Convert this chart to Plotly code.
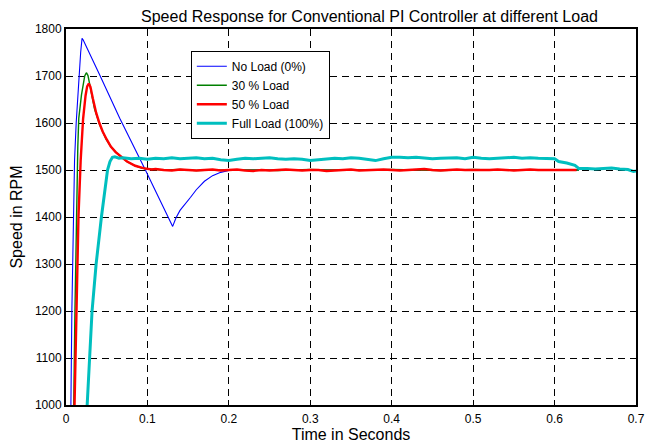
import plotly.graph_objects as go

# ---- time axis ticks ----
x_ticks = [0, 0.1, 0.2, 0.3, 0.4, 0.5, 0.6, 0.7]
x_tick_text = ["0", "0.1", "0.2", "0.3", "0.4", "0.5", "0.6", "0.7"]
y_ticks = [1000, 1100, 1200, 1300, 1400, 1500, 1600, 1700, 1800]

# ---- No Load (0%) ----
noload_t = [0.0055, 0.006, 0.0072, 0.0089, 0.0105, 0.0125, 0.0145, 0.0159, 0.018, 0.0197, 0.021,
            0.042, 0.066, 0.0975, 0.120, 0.131, 0.135, 0.140, 0.153, 0.160, 0.170, 0.180, 0.190,
            0.200, 0.22, 0.26, 0.30, 0.34, 0.38, 0.42, 0.46, 0.50, 0.54, 0.58, 0.63]
noload_v = [960, 1000, 1200, 1400, 1520, 1600, 1665, 1700, 1750, 1780, 1777,
            1700, 1610, 1500, 1420, 1380, 1398, 1414, 1442, 1458, 1476, 1488, 1495,
            1499, 1500, 1500, 1500, 1500, 1500, 1500, 1500, 1500, 1500, 1500, 1500]

# ---- 30 % Load ----
load30_t = [0.009, 0.0095, 0.011, 0.0128, 0.0145, 0.0157, 0.019, 0.023, 0.025, 0.027, 0.030,
            0.035, 0.041, 0.045, 0.049, 0.055, 0.061, 0.068, 0.075, 0.085, 0.093, 0.100,
            0.12, 0.14, 0.16, 0.18, 0.20, 0.22, 0.24, 0.26, 0.28, 0.30, 0.32, 0.34, 0.36,
            0.38, 0.40, 0.42, 0.44, 0.46, 0.48, 0.50, 0.52, 0.54, 0.56, 0.58, 0.60, 0.63]
load30_v = [960, 1000, 1200, 1400, 1550, 1610, 1660, 1700, 1707, 1701, 1672,
            1630, 1598, 1580, 1566, 1550, 1538, 1527, 1518, 1509, 1504, 1502,
            1500, 1501, 1499, 1500, 1500, 1501, 1500, 1499, 1500, 1501, 1500, 1500, 1499,
            1500, 1501, 1500, 1500, 1499, 1500, 1501, 1500, 1500, 1499, 1500, 1500, 1500]

# ---- 50 % Load ----
load50_t = [0.010, 0.0105, 0.0117, 0.013, 0.0153, 0.018, 0.021, 0.024, 0.026, 0.028, 0.030,
            0.033, 0.037, 0.041, 0.045, 0.050, 0.055, 0.061, 0.068, 0.075, 0.085, 0.095,
            0.105, 0.11, 0.12, 0.13, 0.14, 0.15, 0.16, 0.17, 0.18, 0.19, 0.20, 0.21, 0.22,
            0.23, 0.24, 0.25, 0.26, 0.27, 0.28, 0.29, 0.30, 0.31, 0.32, 0.33, 0.34, 0.35,
            0.36, 0.37, 0.38, 0.39, 0.40, 0.41, 0.42, 0.43, 0.44, 0.45, 0.46, 0.47, 0.48,
            0.49, 0.50, 0.51, 0.52, 0.53, 0.54, 0.55, 0.56, 0.57, 0.58, 0.59, 0.60, 0.61,
            0.62, 0.627]
load50_v = [960, 1000, 1100, 1200, 1400, 1520, 1609, 1658, 1678, 1684, 1677,
            1652, 1622, 1600, 1582, 1565, 1550, 1538, 1527, 1518, 1509, 1504,
            1501, 1502, 1500, 1499, 1501, 1500, 1499, 1500, 1501, 1499, 1500, 1501, 1499,
            1498, 1500, 1499, 1500, 1501, 1500, 1499, 1500, 1500, 1498, 1499, 1500, 1501,
            1499, 1500, 1500, 1501, 1500, 1499, 1500, 1501, 1502, 1500, 1499, 1500, 1501,
            1500, 1500, 1499, 1500, 1501, 1500, 1499, 1500, 1501, 1500, 1500, 1501, 1500,
            1500, 1500]

# ---- Full Load (100%) ----
full_t = [0.0255, 0.026, 0.029, 0.032, 0.037, 0.0435, 0.051, 0.054, 0.057, 0.060, 0.065,
          0.07, 0.08, 0.09, 0.10, 0.11, 0.12, 0.13, 0.14, 0.15, 0.16, 0.17, 0.18, 0.19,
          0.20, 0.21, 0.22, 0.23, 0.24, 0.25, 0.26, 0.27, 0.28, 0.29, 0.30, 0.31, 0.32,
          0.33, 0.34, 0.35, 0.36, 0.37, 0.38, 0.39, 0.40, 0.41, 0.42, 0.43, 0.44, 0.45,
          0.46, 0.47, 0.48, 0.49, 0.50, 0.51, 0.52, 0.53, 0.54, 0.55, 0.56, 0.57, 0.58,
          0.59, 0.600, 0.605, 0.615, 0.625, 0.630, 0.64, 0.65, 0.66, 0.67, 0.68, 0.69,
          0.697, 0.70]
full_v = [960, 1000, 1100, 1200, 1300, 1400, 1500, 1518, 1527, 1528, 1525,
          1526, 1524, 1525, 1523, 1525, 1524, 1526, 1524, 1525, 1526, 1524, 1525, 1522,
          1520, 1523, 1525, 1524, 1525, 1526, 1524, 1523, 1524, 1523, 1520, 1522, 1524,
          1525, 1524, 1526, 1525, 1523, 1520, 1524, 1527, 1527, 1526, 1527, 1525, 1524,
          1525, 1526, 1526, 1524, 1527, 1525, 1524, 1525, 1526, 1527, 1525, 1526, 1525,
          1524, 1524, 1518, 1515, 1510, 1503, 1503, 1502, 1503, 1504, 1502, 1501,
          1497, 1498]

FONT = "Liberation Sans, Arial, Helvetica, sans-serif"

fig = go.Figure()
fig.add_trace(go.Scatter(x=noload_t, y=noload_v, mode="lines", name="No Load (0%)",
                         line=dict(color="#0000ff", width=1.1)))
fig.add_trace(go.Scatter(x=load30_t, y=load30_v, mode="lines", name="30 % Load",
                         line=dict(color="#008000", width=1.4)))
fig.add_trace(go.Scatter(x=load50_t, y=load50_v, mode="lines", name="50 % Load",
                         line=dict(color="#ff0000", width=2.4)))
fig.add_trace(go.Scatter(x=full_t, y=full_v, mode="lines", name="Full Load (100%)",
                         line=dict(color="#00bfbf", width=3)))

axis_common = dict(
    showline=True, linecolor="black", linewidth=2, mirror="ticks",
    ticks="inside", ticklen=5, tickcolor="black", tickwidth=1,
    showgrid=True, gridcolor="black", gridwidth=1, griddash="7px,5px",
    zeroline=False, tickfont=dict(family=FONT, size=12, color="black"),
)

fig.update_layout(
    width=652, height=445,
    margin=dict(l=66, r=7, t=29, b=35),
    paper_bgcolor="white", plot_bgcolor="white",
    font=dict(family=FONT, color="black"),
    title=dict(text="Speed Response for Conventional PI Controller at different Load",
               x=369.5 / 652, xanchor="center", y=1 - 16 / 445, yanchor="middle",
               yref="container", font=dict(family=FONT, size=16, color="black")),
    xaxis=dict(range=[0, 0.7], tickvals=x_ticks, ticktext=x_tick_text,
               ticklabelstandoff=2,
               title=dict(text="Time in Seconds", standoff=0,
                          font=dict(family=FONT, size=16, color="black")),
               **axis_common),
    yaxis=dict(range=[1000, 1800], tickvals=y_ticks,
               title=dict(text="Speed in RPM", standoff=8,
                          font=dict(family=FONT, size=16, color="black")),
               **axis_common),
    legend=dict(x=0.219, y=0.942, xanchor="left", yanchor="top",
                bgcolor="white", bordercolor="black", borderwidth=1,
                font=dict(family=FONT, size=12, color="black"),
                itemwidth=30, tracegroupgap=0),
    showlegend=True,
)

fig.write_html("out.html")
